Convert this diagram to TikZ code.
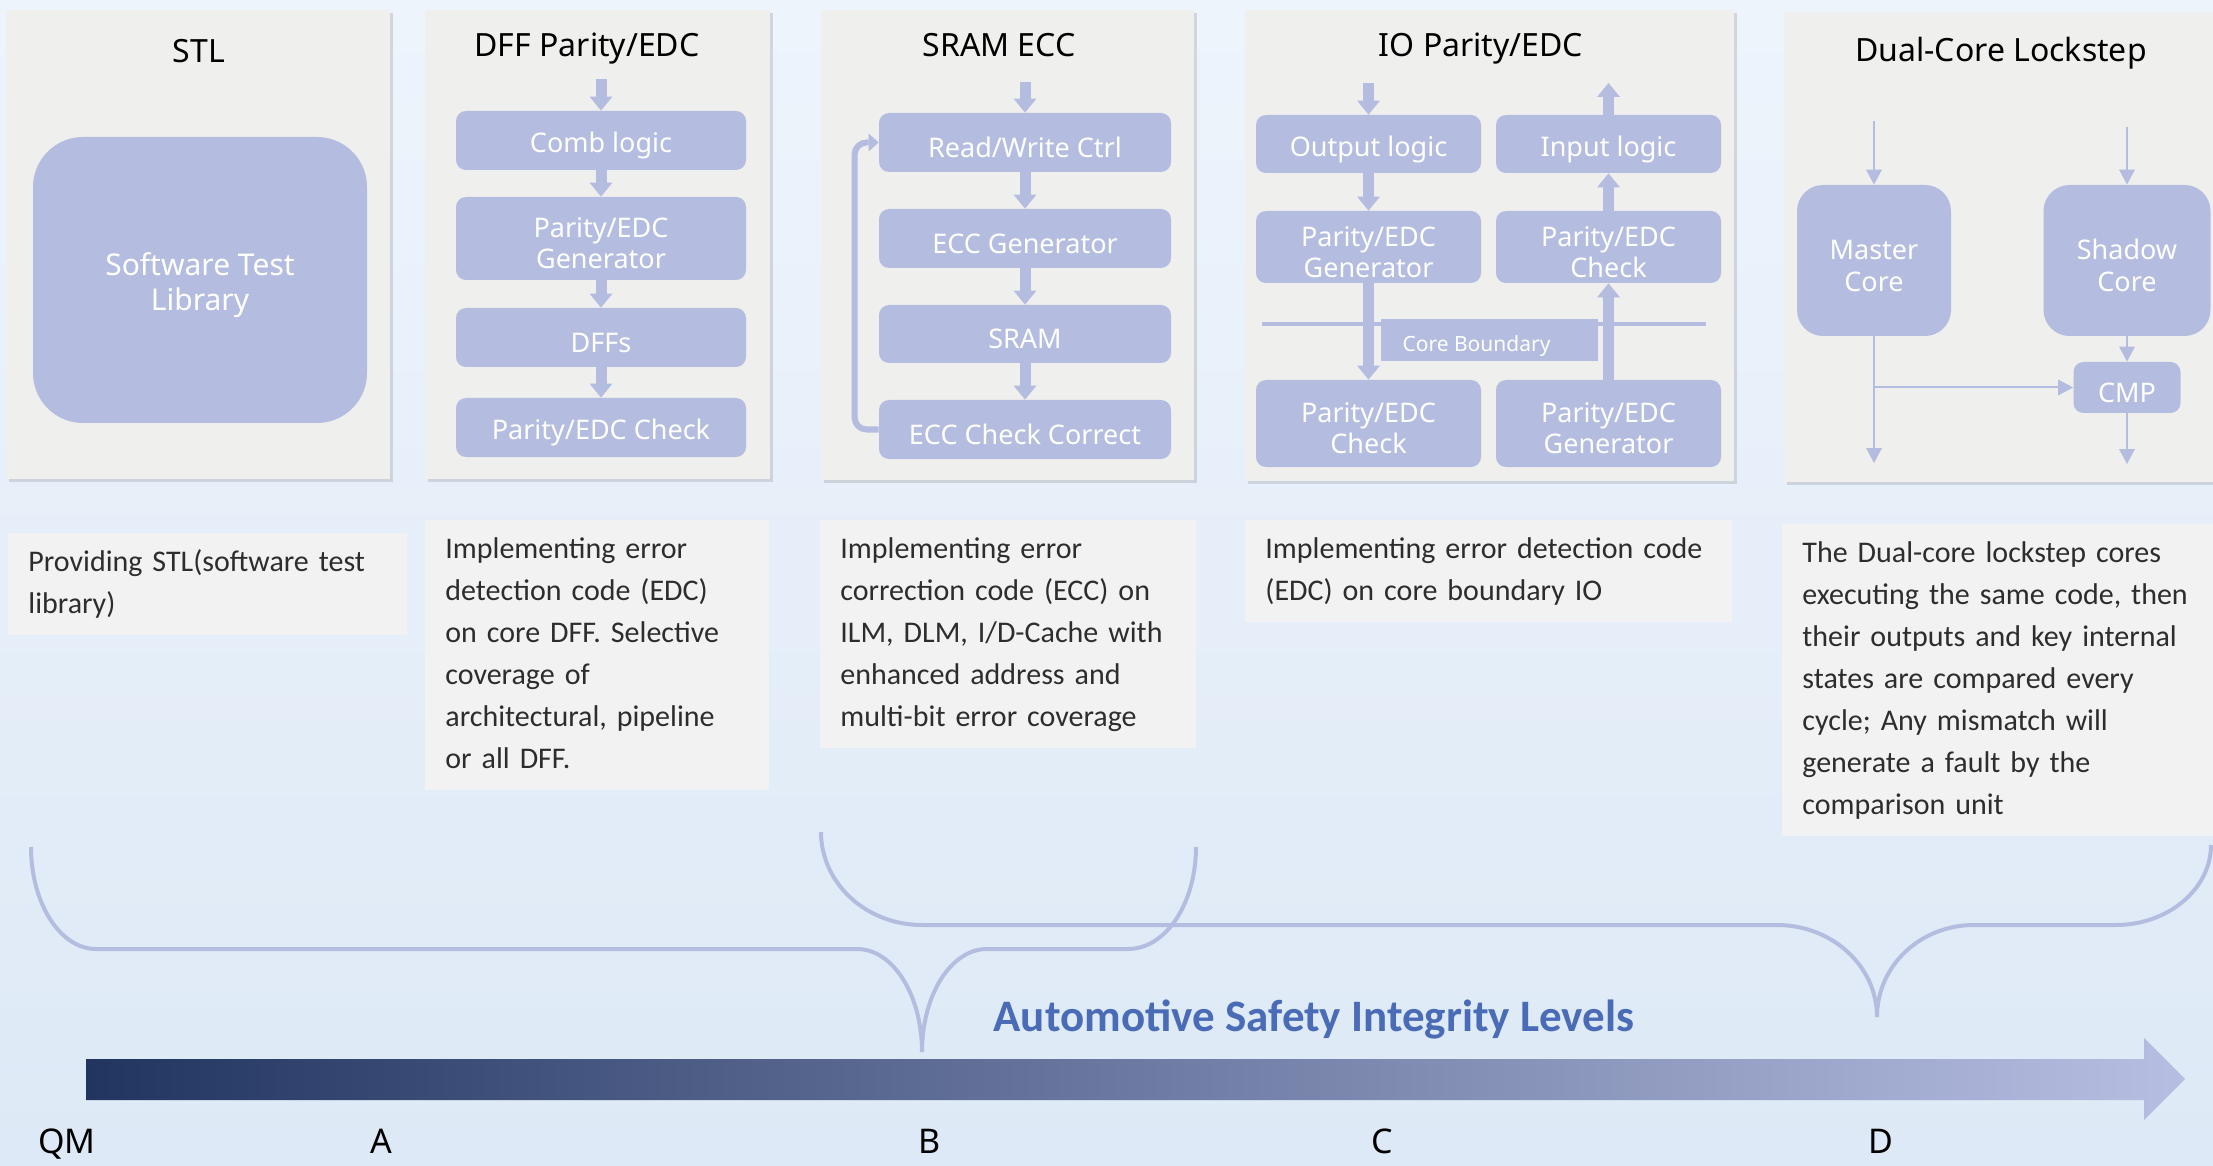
\documentclass[tikz,border=0pt]{standalone}
\usepackage{fontspec}
\setmainfont{Noto Sans}
\newfontfamily\descfont{Carlito}
\usetikzlibrary{arrows.meta,shadows}

\definecolor{bgtop}{RGB}{238,244,252}
\definecolor{bgbot}{RGB}{221,233,246}
\definecolor{panelgray}{RGB}{239,239,238}
\definecolor{boxblue}{RGB}{180,189,223}
\definecolor{descgray}{RGB}{242,242,242}
\definecolor{desctext}{RGB}{45,45,45}
\definecolor{asilblue}{RGB}{74,107,181}
\definecolor{asildark}{RGB}{33,53,96}
\definecolor{asillight}{RGB}{183,190,226}

\begin{document}
\begin{tikzpicture}[x=0.5pt, y=-0.5pt,
    panel/.style={fill=panelgray, drop shadow={shadow xshift=1.5pt, shadow yshift=-1.5pt, opacity=0.25}},
    ttl/.style={anchor=base, font=\fontsize{16}{19}\selectfont},
    blk/.style={fill=boxblue, rounded corners=5pt, inner sep=0pt},
    btxt/.style={text=white, align=center, inner sep=0pt, yshift=-2.5pt, font=\fontsize{13.5}{15.5}\selectfont},
    fat/.style={draw=boxblue, line width=5.5pt, -{Triangle[width=11.5pt, length=7pt, line width=0pt]}},
    sig/.style={draw=boxblue, line width=1pt, -{Triangle[width=8pt, length=7.5pt, line width=0pt]}},
    loopback/.style={draw=boxblue, line width=3pt, rounded corners=6pt, -{Triangle[width=9pt, length=5pt, line width=0pt]}},
    desc/.style={anchor=north west, fill=descgray, inner xsep=10pt, inner ysep=4.5pt, align=left, text=desctext, font=\descfont\fontsize{15}{21}\selectfont},
    lvl/.style={anchor=base, font=\bfseries\fontsize{17}{20}\selectfont},
    brace/.style={draw=boxblue, line width=2pt}]
    \useasboundingbox (0,0) rectangle (2213,1166);
    \shade[top color=bgtop, bottom color=bgbot] (0,0) rectangle (2213,1166);

    % STL
    \fill[panel] (6,10) rectangle (390,479);
    \node[ttl] (stlt) at (199,63) {STL};
    \node[blk, rounded corners=25pt, minimum width=167pt, minimum height=143pt,
        label={[btxt, font=\fontsize{15}{17.5}\selectfont]center:{Software Test\\Library}}] (stl) at (200,280) {};

    % DFF parity
    \fill[panel] (425,10) rectangle (770,479);
    \node[ttl] (dfft) at (587,57) {DFF Parity/EDC};
    \node[blk, minimum width=145pt, minimum height=29.5pt, label={[btxt]center:Comb logic}] (comb) at (601,140.5) {};
    \node[blk, minimum width=145pt, minimum height=41.5pt, label={[btxt]center:{Parity/EDC\\Generator}}] (dgen) at (601,238.5) {};
    \node[blk, minimum width=145pt, minimum height=29.5pt, label={[btxt]center:DFFs}] (dffs) at (601,337.5) {};
    \node[blk, minimum width=145pt, minimum height=29.5pt, label={[btxt]center:Parity/EDC Check}] (dchk) at (601,427.5) {};
    \coordinate (din) at (601,79);
    \draw[fat] (din) -- (comb);
    \draw[fat] (comb) -- (dgen);
    \draw[fat] (dgen) -- (dffs);
    \draw[fat] (dffs) -- (dchk);

    % SRAM ECC
    \fill[panel] (821,10) rectangle (1194,480);
    \node[ttl] (sramt) at (999,57) {SRAM ECC};
    \node[blk, minimum width=146pt, minimum height=29.5pt, label={[btxt]center:Read/Write Ctrl}] (rw) at (1025,142.5) {};
    \node[blk, minimum width=146pt, minimum height=29.5pt, label={[btxt]center:ECC Generator}] (egen) at (1025,238.5) {};
    \node[blk, minimum width=146pt, minimum height=29pt, label={[btxt]center:SRAM}] (sram) at (1025,334) {};
    \node[blk, minimum width=146pt, minimum height=29.5pt, label={[btxt]center:ECC Check Correct}] (echk) at (1025,429.5) {};
    \coordinate (sin) at (1025,82);
    \draw[fat] (sin) -- (rw);
    \draw[fat] (rw) -- (egen);
    \draw[fat] (egen) -- (sram);
    \draw[fat] (sram) -- (echk);
    \draw[loopback] (echk.west) -- ++(-24,0) |- (rw.west);

    % IO parity
    \fill[panel] (1245,10) rectangle (1734,481);
    \node[ttl] (iot) at (1481,57) {IO Parity/EDC};
    \draw[boxblue, line width=2pt] (1262,324) -- (1706,324);
    \node[blk, rounded corners=0pt, minimum width=108.5pt, minimum height=21pt,
        label={[btxt, xshift=-6.5pt, yshift=-0.5pt, font=\fontsize{10.5}{12}\selectfont]center:Core Boundary}] (cb) at (1489.5,340) {};
    \node[blk, minimum width=112.5pt, minimum height=29pt, label={[btxt]center:Output logic}] (outl) at (1368.5,144) {};
    \node[blk, minimum width=112.5pt, minimum height=29pt, label={[btxt]center:Input logic}] (inl) at (1608.5,144) {};
    \node[blk, minimum width=112.5pt, minimum height=36pt, label={[btxt]center:{Parity/EDC\\Generator}}] (ogen) at (1368.5,247) {};
    \node[blk, minimum width=112.5pt, minimum height=36pt, label={[btxt]center:{Parity/EDC\\Check}}] (ichk) at (1608.5,247) {};
    \node[blk, minimum width=112.5pt, minimum height=43.5pt, label={[btxt]center:{Parity/EDC\\Check}}] (ochk) at (1368.5,423.5) {};
    \node[blk, minimum width=112.5pt, minimum height=43.5pt, label={[btxt]center:{Parity/EDC\\Generator}}] (igen) at (1608.5,423.5) {};
    \coordinate (oin) at (1368.5,83);
    \coordinate (iout) at (1608.5,83);
    \draw[fat] (oin) -- (outl);
    \draw[fat] (outl) -- (ogen);
    \draw[fat] (ogen) -- (ochk);
    \draw[fat] (igen) -- (ichk);
    \draw[fat] (ichk) -- (inl);
    \draw[fat] (inl) -- (iout);

    % dual-core lockstep
    \fill[panel] (1784,12) rectangle (2240,482);
    \node[ttl] (dualt) at (2001,62) {Dual-Core Lockstep};
    \node[blk, rounded corners=13pt, minimum width=77pt, minimum height=75.5pt,
        label={[btxt, font=\fontsize{13.5}{16}\selectfont]center:{Master\\Core}}] (mcore) at (1874,260.5) {};
    \node[blk, rounded corners=13pt, minimum width=83.5pt, minimum height=75.5pt,
        label={[btxt, font=\fontsize{13.5}{16}\selectfont]center:{Shadow\\Core}}] (score) at (2127,260.5) {};
    \node[blk, minimum width=53.5pt, minimum height=25.5pt, label={[btxt]center:CMP}] (cmp) at (2127,387.5) {};
    \coordinate (min) at (1874,121);
    \coordinate (shin) at (2127,127);
    \coordinate (mout) at (1874,463);
    \coordinate (cout) at (2127,464);
    \draw[sig] (min) -- (mcore);
    \draw[sig] (shin) -- (score);
    \draw[sig] (mcore) -- (mout);
    \draw[sig] (mcore.south |- cmp.west) -- (cmp.west);
    \draw[sig] (score) -- (cmp);
    \draw[sig] (cmp) -- (cout);

    % descriptions
    \node[desc, text width=179.5pt] (stld) at (8,533) {\strut Providing STL(software test\\library)\strut};
    \node[desc, text width=152pt] (dffd) at (425,520) {\strut Implementing error\\detection code (EDC)\\on core DFF. Selective\\coverage of\\architectural, pipeline\\or all DFF.\strut};
    \node[desc, text width=168pt] (sramd) at (820,520) {\strut Implementing error\\correction code (ECC) on\\ILM, DLM, I/D-Cache with\\enhanced address and\\multi-bit error coverage\strut};
    \node[desc, text width=223.5pt] (iod) at (1245,520) {\strut Implementing error detection code\\(EDC) on core boundary IO\strut};
    \node[desc, text width=220pt] (duald) at (1782,524) {\strut The Dual-core lockstep cores\\executing the same code, then\\their outputs and key internal\\states are compared every\\cycle; Any mismatch will\\generate a fault by the\\comparison unit\strut};

    % braces
    \draw[brace] (31,847) .. controls (31,903) and (60,949) .. (96,949) -- (857,949)
        .. controls (893,949) and (922,995) .. (922,1052)
        .. controls (922,995) and (951,949) .. (987,949) -- (1128,949)
        .. controls (1166,949) and (1196,903) .. (1196,847);
    \draw[brace] (821,832) .. controls (821,883) and (866,925) .. (922,925) -- (1777,925)
        .. controls (1832,925) and (1877,966) .. (1877,1017)
        .. controls (1877,966) and (1920,925) .. (1974,925) -- (2116,925)
        .. controls (2168,925) and (2211,889) .. (2211,845);

    % ASIL scale
    \shade[left color=asildark, right color=asillight] (86,1059) -- (2144,1059) -- (2144,1038) -- (2185,1079) -- (2144,1120) -- (2144,1100) -- (86,1100) -- cycle;
    \node[anchor=base, text=asilblue, font=\descfont\bfseries\fontsize{22.5}{26}\selectfont] (asil) at (1314,1031) {Automotive Safety Integrity Levels};
    \node[lvl] (lqm) at (67,1153) {QM};
    \node[lvl] (la) at (381,1153) {A};
    \node[lvl] (lb) at (930,1153) {B};
    \node[lvl] (lc) at (1382,1153) {C};
    \node[lvl] (ld) at (1881,1153) {D};
\end{tikzpicture}
\end{document}
